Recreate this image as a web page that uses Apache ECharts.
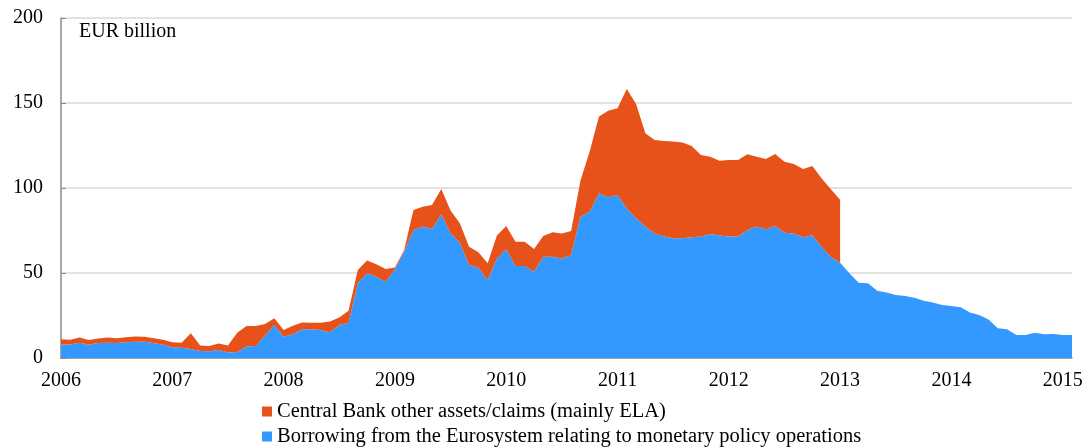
<!DOCTYPE html>
<html>
<head>
<meta charset="utf-8">
<script src="https://cdn.jsdelivr.net/npm/echarts@6/dist/echarts.min.js"></script>
<style>
html,body{margin:0;padding:0;background:#fff;}
#chart{width:1088px;height:448px;}
</style>
</head>
<body>
<div id="chart"></div>
<script>
// Monthly categories Jan 2006 .. Feb 2015
var years = [2006,2007,2008,2009,2010,2011,2012,2013,2014,2015];
var months = [];
years.forEach(function(y){
  for (var m = 1; m <= 12; m++) {
    if (y === 2015 && m > 2) break;
    months.push(y + '-' + (m < 10 ? '0' + m : '' + m));
  }
});

var nameELA = 'Central Bank other assets/claims (mainly ELA)';
var nameEuro = 'Borrowing from the Eurosystem relating to monetary policy operations';

// Borrowing from the Eurosystem (EUR billion)
var borrowing = [
  8.0, 8.0, 9.0, 7.8, 8.8, 9.0, 8.8, 9.2, 9.6, 9.6, 8.8, 7.8,
  6.3, 6.1, 5.3, 4.1, 3.9, 4.7, 3.3, 3.6, 6.7, 7.0, 13.3, 19.4,
  12.5, 13.9, 16.9, 16.9, 16.5, 15.1, 19.4, 20.8, 44.0, 49.8, 47.8, 44.9,
  52.2, 62.5, 75.3, 77.3, 75.9, 84.5, 73.3, 67.8, 54.7, 53.1, 45.9, 58.6,
  63.9, 54.1, 54.1, 50.8, 59.6, 59.6, 58.6, 60.6, 83.1, 86.1, 96.9, 94.5,
  95.9, 88.0, 82.2, 77.3, 73.3, 71.4, 70.4, 70.4, 71.0, 71.4, 72.9, 72.0,
  71.4, 71.4, 75.3, 77.3, 75.7, 77.7, 73.7, 73.3, 71.0, 72.2, 65.5, 59.6,
  56.1, 49.8, 44.3, 43.9, 39.6, 38.6, 37.1, 36.5, 35.5, 33.7, 32.7, 31.2,
  30.6, 29.8, 26.7, 25.3, 22.7, 17.5, 16.9, 13.5, 13.5, 14.9, 13.9, 14.1,
  13.5, 13.5
];

// Central Bank other assets/claims, mainly ELA (EUR billion); no data after Jan 2013
var ela = [
  3.0, 2.8, 3.0, 2.8, 2.6, 3.0, 2.8, 3.0, 3.1, 2.9, 2.8, 3.0,
  2.9, 2.9, 9.2, 3.2, 3.2, 3.9, 4.0, 11.2, 12.1, 11.8, 6.7, 4.0,
  4.0, 5.0, 4.0, 3.9, 4.3, 6.3, 4.4, 7.0, 7.8, 7.6, 7.4, 7.5,
  1.1, 1.0, 11.7, 11.7, 14.1, 14.9, 13.4, 11.4, 10.8, 9.1, 9.8, 13.4,
  13.7, 14.3, 14.3, 13.3, 12.2, 14.3, 14.7, 14.1, 21.2, 35.3, 45.1, 51.0,
  51.0, 70.2, 67.2, 54.9, 54.9, 56.2, 56.9, 56.3, 53.7, 48.0, 45.5, 44.1,
  45.1, 45.1, 44.5, 41.1, 41.4, 42.3, 41.8, 40.8, 40.2, 40.7, 40.2, 39.6,
  37.0
];

var chart = echarts.init(document.getElementById('chart'), null, {renderer: 'canvas'});
var font = '"Liberation Serif", "Times New Roman", serif';
var axisGray = '#8a8a8a';
var legendText = {fontFamily: font, fontSize: 20.5, color: '#000'};

chart.setOption({
  animation: false,
  backgroundColor: '#ffffff',
  grid: {left: 61, right: 16, top: 18, bottom: 90, containLabel: false},
  legend: [{
    left: 257,
    top: 396,
    itemWidth: 10,
    itemHeight: 10,
    itemGap: 4,
    icon: 'rect',
    data: [nameELA],
    textStyle: legendText
  }, {
    left: 257,
    top: 421,
    itemWidth: 10,
    itemHeight: 10,
    icon: 'rect',
    data: [nameEuro],
    textStyle: legendText
  }],
  graphic: [{
    type: 'text',
    left: 79,
    top: 22,
    style: {text: 'EUR billion', font: '20px ' + font, fill: '#000'}
  }],
  xAxis: {
    type: 'category',
    data: months,
    boundaryGap: false,
    axisLine: {lineStyle: {color: axisGray, width: 1.5}},
    axisTick: {show: true, inside: true, length: 5, interval: 11, lineStyle: {color: axisGray}},
    axisLabel: {
      interval: 11,
      margin: 13,
      color: '#000',
      fontFamily: font,
      fontSize: 20,
      formatter: function(v){ return v.slice(0, 4); }
    },
    splitLine: {show: false}
  },
  yAxis: {
    type: 'value',
    min: 0,
    max: 200,
    interval: 50,
    axisLine: {show: true, lineStyle: {color: axisGray, width: 1.5}},
    axisTick: {show: true, inside: true, length: 5, lineStyle: {color: axisGray}},
    axisLabel: {margin: 18, color: '#000', fontFamily: font, fontSize: 20},
    splitLine: {show: true, lineStyle: {color: '#d9d9d9', width: 1.5}}
  },
  series: [
    {
      name: nameEuro,
      type: 'line',
      stack: 'total',
      data: borrowing,
      showSymbol: false,
      symbol: 'none',
      lineStyle: {width: 0, color: '#3399ff'},
      itemStyle: {color: '#3399ff'},
      areaStyle: {color: '#3399ff', opacity: 1},
      z: 2
    },
    {
      name: nameELA,
      type: 'line',
      stack: 'total',
      data: ela,
      showSymbol: false,
      symbol: 'none',
      lineStyle: {width: 0, color: '#e6521a'},
      itemStyle: {color: '#e6521a'},
      areaStyle: {color: '#e6521a', opacity: 1},
      z: 3
    }
  ]
});
</script>
</body>
</html>
